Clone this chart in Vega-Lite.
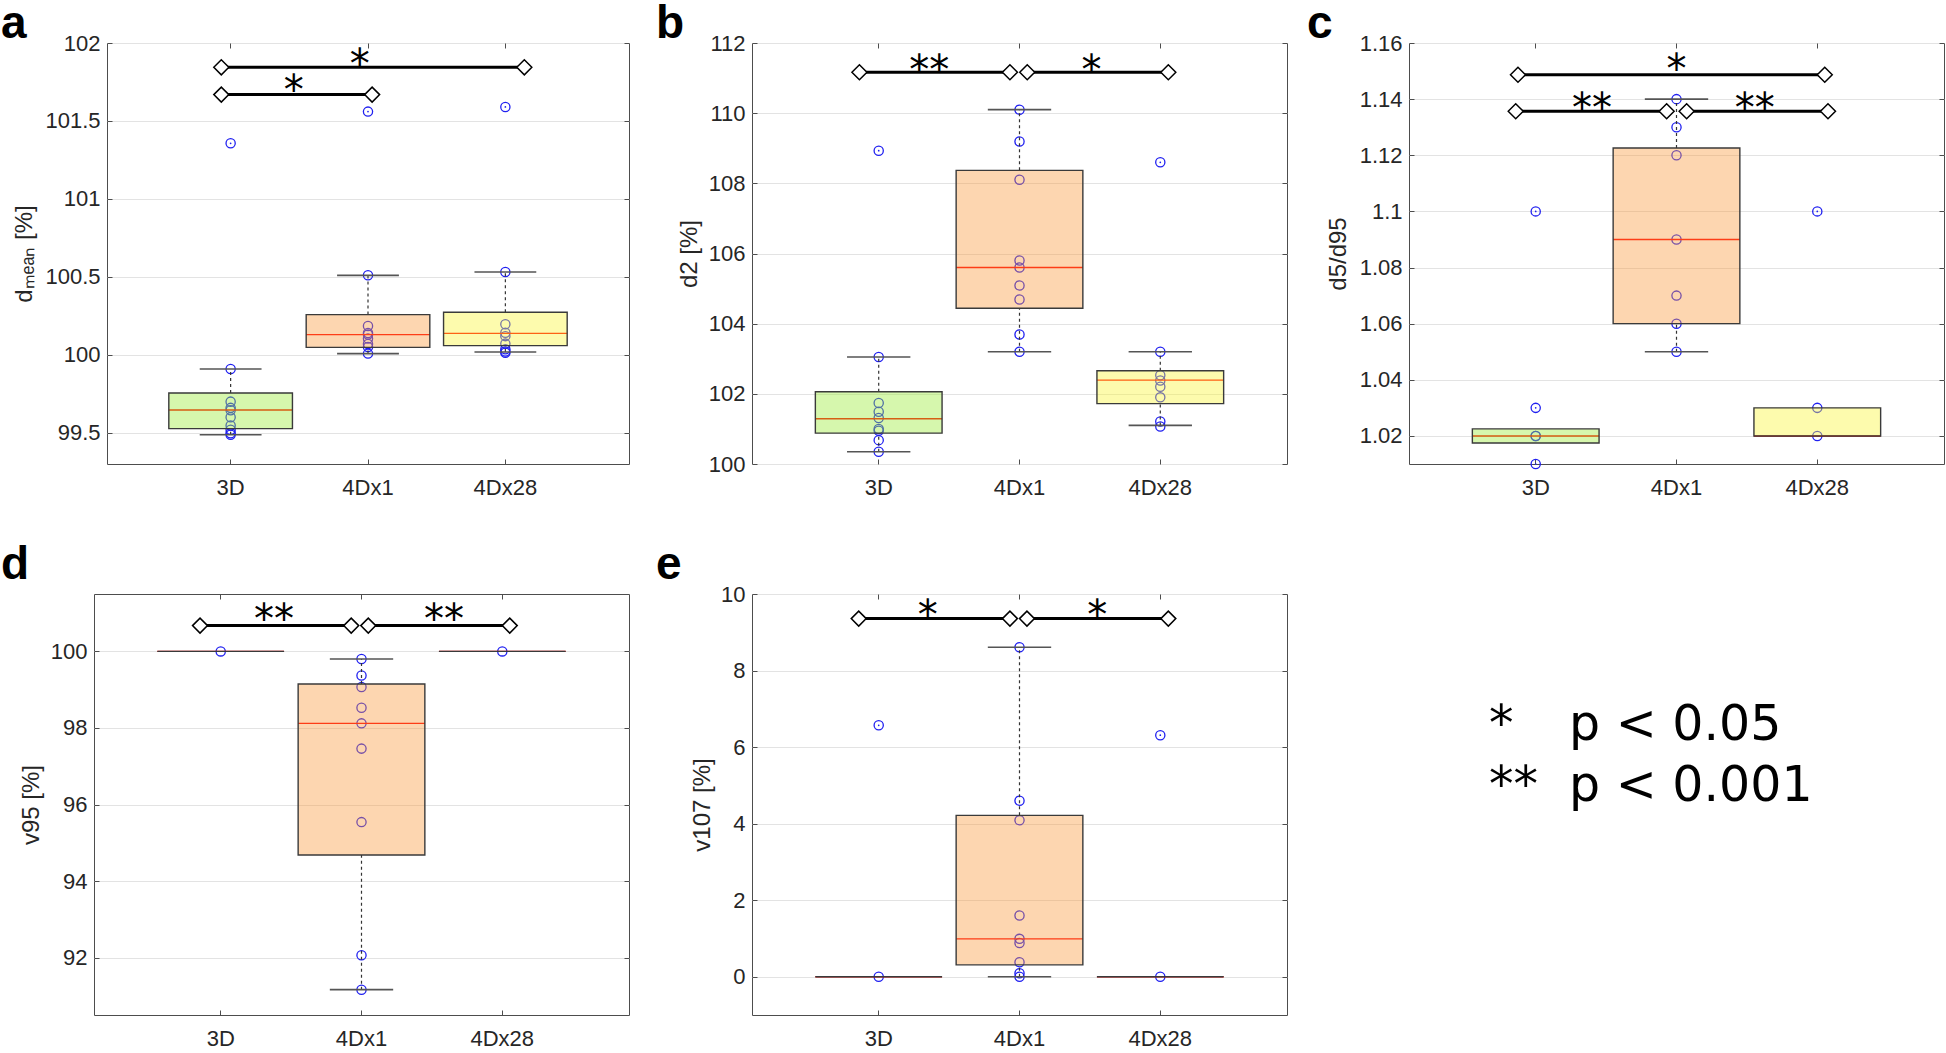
{
  "$schema": "https://vega.github.io/schema/vega-lite/v6.json",
  "padding": {"left": 0, "top": 0, "right": 0, "bottom": 0},
  "background": "white",
  "bounds": "full",
  "spacing": 42,
  "datasets": {
    "pts": [
      {"p":"a","g":"3D","v":101.357},{"p":"a","g":"3D","v":99.909},{"p":"a","g":"3D","v":99.70},{"p":"a","g":"3D","v":99.66},{"p":"a","g":"3D","v":99.645},{"p":"a","g":"3D","v":99.60},{"p":"a","g":"3D","v":99.547},{"p":"a","g":"3D","v":99.52},{"p":"a","g":"3D","v":99.497},{"p":"a","g":"3D","v":99.488},
      {"p":"a","g":"4Dx1","v":101.56},{"p":"a","g":"4Dx1","v":100.51},{"p":"a","g":"4Dx1","v":100.185},{"p":"a","g":"4Dx1","v":100.14},{"p":"a","g":"4Dx1","v":100.13},{"p":"a","g":"4Dx1","v":100.105},{"p":"a","g":"4Dx1","v":100.07},{"p":"a","g":"4Dx1","v":100.05},{"p":"a","g":"4Dx1","v":100.008},
      {"p":"a","g":"4Dx28","v":101.59},{"p":"a","g":"4Dx28","v":100.531},{"p":"a","g":"4Dx28","v":100.196},{"p":"a","g":"4Dx28","v":100.142},{"p":"a","g":"4Dx28","v":100.12},{"p":"a","g":"4Dx28","v":100.072},{"p":"a","g":"4Dx28","v":100.036},{"p":"a","g":"4Dx28","v":100.021},{"p":"a","g":"4Dx28","v":100.014},
      {"p":"b","g":"3D","v":108.93},{"p":"b","g":"3D","v":103.05},{"p":"b","g":"3D","v":101.74},{"p":"b","g":"3D","v":101.49},{"p":"b","g":"3D","v":101.31},{"p":"b","g":"3D","v":101.0},{"p":"b","g":"3D","v":100.95},{"p":"b","g":"3D","v":100.68},{"p":"b","g":"3D","v":100.35},
      {"p":"b","g":"4Dx1","v":110.1},{"p":"b","g":"4Dx1","v":109.19},{"p":"b","g":"4Dx1","v":108.1},{"p":"b","g":"4Dx1","v":105.8},{"p":"b","g":"4Dx1","v":105.6},{"p":"b","g":"4Dx1","v":105.09},{"p":"b","g":"4Dx1","v":104.69},{"p":"b","g":"4Dx1","v":103.69},{"p":"b","g":"4Dx1","v":103.2},
      {"p":"b","g":"4Dx28","v":108.6},{"p":"b","g":"4Dx28","v":103.2},{"p":"b","g":"4Dx28","v":102.53},{"p":"b","g":"4Dx28","v":102.38},{"p":"b","g":"4Dx28","v":102.2},{"p":"b","g":"4Dx28","v":101.9},{"p":"b","g":"4Dx28","v":101.21},{"p":"b","g":"4Dx28","v":101.07},
      {"p":"c","g":"3D","v":1.10},{"p":"c","g":"3D","v":1.03},{"p":"c","g":"3D","v":1.02},{"p":"c","g":"3D","v":1.02},{"p":"c","g":"3D","v":1.01},
      {"p":"c","g":"4Dx1","v":1.14},{"p":"c","g":"4Dx1","v":1.13},{"p":"c","g":"4Dx1","v":1.12},{"p":"c","g":"4Dx1","v":1.09},{"p":"c","g":"4Dx1","v":1.07},{"p":"c","g":"4Dx1","v":1.06},{"p":"c","g":"4Dx1","v":1.05},
      {"p":"c","g":"4Dx28","v":1.10},{"p":"c","g":"4Dx28","v":1.03},{"p":"c","g":"4Dx28","v":1.02},
      {"p":"d","g":"3D","v":100},
      {"p":"d","g":"4Dx1","v":99.80},{"p":"d","g":"4Dx1","v":99.37},{"p":"d","g":"4Dx1","v":99.07},{"p":"d","g":"4Dx1","v":98.53},{"p":"d","g":"4Dx1","v":98.12},{"p":"d","g":"4Dx1","v":97.46},{"p":"d","g":"4Dx1","v":95.54},{"p":"d","g":"4Dx1","v":92.06},{"p":"d","g":"4Dx1","v":91.16},
      {"p":"d","g":"4Dx28","v":100},
      {"p":"e","g":"3D","v":6.57},{"p":"e","g":"3D","v":0},
      {"p":"e","g":"4Dx1","v":8.61},{"p":"e","g":"4Dx1","v":4.60},{"p":"e","g":"4Dx1","v":4.09},{"p":"e","g":"4Dx1","v":1.6},{"p":"e","g":"4Dx1","v":0.99},{"p":"e","g":"4Dx1","v":0.88},{"p":"e","g":"4Dx1","v":0.38},{"p":"e","g":"4Dx1","v":0.09},{"p":"e","g":"4Dx1","v":0.0},
      {"p":"e","g":"4Dx28","v":6.31},{"p":"e","g":"4Dx28","v":0}
    ],
    "out": [
      {"p":"a","g":"3D","v":101.357},{"p":"a","g":"4Dx1","v":101.56},{"p":"a","g":"4Dx28","v":101.59},
      {"p":"b","g":"3D","v":108.93},{"p":"b","g":"4Dx28","v":108.6},
      {"p":"c","g":"3D","v":1.10},{"p":"c","g":"3D","v":1.03},{"p":"c","g":"3D","v":1.01},{"p":"c","g":"4Dx28","v":1.10},
      {"p":"e","g":"3D","v":6.57},{"p":"e","g":"4Dx28","v":6.31}
    ],
    "box": [
      {"p":"a","g":"3D","q1":99.527,"med":99.646,"q3":99.755,"wlo":99.488,"whi":99.909},
      {"p":"a","g":"4Dx1","q1":100.048,"med":100.13,"q3":100.258,"wlo":100.008,"whi":100.51},
      {"p":"a","g":"4Dx28","q1":100.059,"med":100.138,"q3":100.273,"wlo":100.018,"whi":100.531},
      {"p":"b","g":"3D","q1":100.88,"med":101.29,"q3":102.06,"wlo":100.35,"whi":103.05},
      {"p":"b","g":"4Dx1","q1":104.44,"med":105.6,"q3":108.37,"wlo":103.2,"whi":110.1},
      {"p":"b","g":"4Dx28","q1":101.72,"med":102.39,"q3":102.66,"wlo":101.1,"whi":103.2},
      {"p":"c","g":"3D","q1":1.0175,"med":1.02,"q3":1.0225,"wlo":null,"whi":null},
      {"p":"c","g":"4Dx1","q1":1.06,"med":1.09,"q3":1.1226,"wlo":1.05,"whi":1.14},
      {"p":"c","g":"4Dx28","q1":1.02,"med":1.02,"q3":1.03,"wlo":null,"whi":null},
      {"p":"d","g":"3D","q1":100,"med":100,"q3":100,"wlo":null,"whi":null},
      {"p":"d","g":"4Dx1","q1":94.68,"med":98.12,"q3":99.148,"wlo":91.163,"whi":99.80},
      {"p":"d","g":"4Dx28","q1":100,"med":100,"q3":100,"wlo":null,"whi":null},
      {"p":"e","g":"3D","q1":0,"med":0,"q3":0,"wlo":null,"whi":null},
      {"p":"e","g":"4Dx1","q1":0.31,"med":0.99,"q3":4.217,"wlo":0,"whi":8.61},
      {"p":"e","g":"4Dx28","q1":0,"med":0,"q3":0,"wlo":null,"whi":null}
    ],
    "sig": [
      {"p":"a","x1":0.932,"x2":3.138,"y":101.844},{"p":"a","x1":0.932,"x2":2.03,"y":101.669},
      {"p":"b","x1":0.863,"x2":1.932,"y":111.165},{"p":"b","x1":2.055,"x2":3.057,"y":111.165},
      {"p":"c","x1":0.874,"x2":3.053,"y":1.1487},{"p":"c","x1":0.858,"x2":1.93,"y":1.1357},{"p":"c","x1":2.072,"x2":3.076,"y":1.1357},
      {"p":"d","x1":0.853,"x2":1.927,"y":100.674},{"p":"d","x1":2.048,"x2":3.053,"y":100.674},
      {"p":"e","x1":0.858,"x2":1.932,"y":9.357},{"p":"e","x1":2.053,"x2":3.057,"y":9.357}
    ],
    "star": [
      {"p":"a","x":1.94,"y":101.908,"s":"*"},{"p":"a","x":1.46,"y":101.743,"s":"*"},
      {"p":"b","x":1.359,"y":111.43,"s":"**"},{"p":"b","x":2.512,"y":111.43,"s":"*"},
      {"p":"c","x":2.0,"y":1.1532,"s":"*"},{"p":"c","x":1.40,"y":1.1395,"s":"**"},{"p":"c","x":2.555,"y":1.1395,"s":"**"},
      {"p":"d","x":1.379,"y":101.02,"s":"**"},{"p":"d","x":2.586,"y":101.02,"s":"**"},
      {"p":"e","x":1.348,"y":9.63,"s":"*"},{"p":"e","x":2.552,"y":9.63,"s":"*"}
    ],
    "leg": [
      {"line":1,"sym":"*","cond":"p < 0.05"},
      {"line":2,"sym":"**","cond":"p < 0.001"}
    ]
  },
  "vconcat": [
    {
      "hconcat": [
        {"width": 8, "height": 421, "data": {"values": []}, "mark": "point", "view": {"stroke": null}},
        {
          "width": 522, "height": 421,
          "view": {"stroke": "#4d4d4d", "strokeWidth": 1},
          "resolve": {"scale": {"x": "independent"}},
          "layer": [
            {
              "resolve": {"axis": {"x": "independent", "y": "independent"}},
              "layer": [
                {"data": {"name": "pts"}, "transform": [{"filter": "datum.p == 'a'"}],
                 "mark": {"type": "point", "shape": "circle", "filled": false, "size": 85, "color": "#2020f0", "strokeWidth": 1.3, "opacity": 1},
                 "encoding": {
                   "x": {"field": "g", "type": "nominal", "scale": {"type": "band", "domain": ["3D","4Dx1","4Dx28"], "paddingInner": 0, "paddingOuter": 0.4}, "axis": {"orient": "bottom", "title": null, "labelAngle": 0, "labelPadding": 18}},
                   "y": {"field": "v", "type": "quantitative", "scale": {"domain": [99.3, 102], "nice": false, "zero": false}, "axis": {"orient": "left", "values": [99.5,100,100.5,101,101.5,102], "format": ".6~g", "title": "dₘₑₐₙ [%]", "grid": true, "labelPadding": 12, "titlePadding": 71, "minExtent": 0, "maxExtent": 0}}
                 }},
                {"data": {"name": "out"}, "transform": [{"filter": "datum.p == 'a'"}],
                 "mark": {"type": "point", "shape": "circle", "filled": true, "size": 3, "color": "#2020f0", "opacity": 1},
                 "encoding": {
                   "x": {"field": "g", "type": "nominal", "scale": {"type": "band", "domain": ["3D","4Dx1","4Dx28"], "paddingInner": 0, "paddingOuter": 0.4}, "axis": {"orient": "top", "title": null, "labels": false}},
                   "y": {"field": "v", "type": "quantitative", "scale": {"domain": [99.3, 102], "nice": false, "zero": false}, "axis": {"orient": "right", "values": [99.5,100,100.5,101,101.5,102], "labels": false, "title": null, "minExtent": 0, "maxExtent": 0}}
                 }},
                {"data": {"name": "box"}, "transform": [{"filter": "datum.p == 'a' && datum.whi != null"}],
                 "layer": [
                   {"mark": {"type": "rule", "stroke": "#333333", "strokeWidth": 1.2, "strokeDash": [3, 3]},
                    "encoding": {"x": {"field": "g", "type": "nominal", "axis": null}, "y": {"field": "q3", "type": "quantitative", "axis": null}, "y2": {"field": "whi"}}},
                   {"mark": {"type": "rule", "stroke": "#333333", "strokeWidth": 1.2, "strokeDash": [3, 3]},
                    "encoding": {"x": {"field": "g", "type": "nominal", "axis": null}, "y": {"field": "wlo", "type": "quantitative", "axis": null}, "y2": {"field": "q1"}}},
                   {"mark": {"type": "bar", "width": {"band": 0.45}, "fill": "transparent", "stroke": "#555555", "strokeWidth": 1.6},
                    "encoding": {"x": {"field": "g", "type": "nominal", "axis": null}, "y": {"field": "whi", "type": "quantitative", "axis": null}, "y2": {"field": "whi"}}},
                   {"mark": {"type": "bar", "width": {"band": 0.45}, "fill": "transparent", "stroke": "#555555", "strokeWidth": 1.6},
                    "encoding": {"x": {"field": "g", "type": "nominal", "axis": null}, "y": {"field": "wlo", "type": "quantitative", "axis": null}, "y2": {"field": "wlo"}}}
                 ]},
                {"data": {"name": "box"}, "transform": [{"filter": "datum.p == 'a'"}],
                 "layer": [
                   {"mark": {"type": "bar", "width": {"band": 0.9}, "fill": "transparent", "stroke": "#ff0000", "strokeWidth": 1.4},
                    "encoding": {"x": {"field": "g", "type": "nominal", "axis": null}, "y": {"field": "med", "type": "quantitative", "axis": null}, "y2": {"field": "med"}}},
                   {"mark": {"type": "bar", "width": {"band": 0.9}, "fillOpacity": 0.4, "stroke": "#3a3a3a", "strokeWidth": 1.4},
                    "encoding": {"x": {"field": "g", "type": "nominal", "axis": null}, "y": {"field": "q1", "type": "quantitative", "axis": null}, "y2": {"field": "q3"},
                      "fill": {"field": "g", "type": "nominal", "scale": {"domain": ["3D","4Dx1","4Dx28"], "range": ["#98eb32","#fa9839","#faf532"]}, "legend": null}}}
                 ]}
              ]
            },
            {
              "data": {"name": "sig"}, "transform": [{"filter": "datum.p == 'a'"}],
              "encoding": {"y": {"field": "y", "type": "quantitative", "scale": {"domain": [99.3, 102], "nice": false, "zero": false}, "axis": null}},
              "layer": [
                {"mark": {"type": "rule", "stroke": "black", "strokeWidth": 3}, "encoding": {"x": {"field": "x1", "type": "quantitative", "scale": {"domain": [0.1, 3.9], "nice": false, "zero": false}, "axis": null}, "x2": {"field": "x2"}}},
                {"mark": {"type": "point", "shape": "diamond", "filled": true, "fill": "white", "stroke": "black", "strokeWidth": 1.5, "size": 225, "opacity": 1}, "encoding": {"x": {"field": "x1", "type": "quantitative", "axis": null}}},
                {"mark": {"type": "point", "shape": "diamond", "filled": true, "fill": "white", "stroke": "black", "strokeWidth": 1.5, "size": 225, "opacity": 1}, "encoding": {"x": {"field": "x2", "type": "quantitative", "axis": null}}}
              ]
            },
            {
              "data": {"name": "star"}, "transform": [{"filter": "datum.p == 'a'"}],
              "mark": {"type": "text", "font": "DejaVu Sans", "fontSize": 40, "baseline": "alphabetic", "dy": 21, "align": "center", "color": "black"},
              "encoding": {"x": {"field": "x", "type": "quantitative", "scale": {"domain": [0.1, 3.9], "nice": false, "zero": false}, "axis": null}, "y": {"field": "y", "type": "quantitative", "axis": null}, "text": {"field": "s"}}
            },
            {
              "data": {"values": [{"label": "a"}]},
              "mark": {"type": "text", "font": "Liberation Sans", "fontSize": 46, "fontWeight": "bold", "baseline": "alphabetic", "align": "left", "color": "black"},
              "encoding": {"x": {"datum": -0.6716, "type": "quantitative", "scale": {"domain": [0.1, 3.9], "nice": false, "zero": false}, "axis": null}, "y": {"datum": 102.032, "type": "quantitative", "axis": null}, "text": {"field": "label"}}
            }
          ]
        },
        {"width": 113, "height": 421, "data": {"values": []}, "mark": "point", "view": {"stroke": null}},
        {
          "width": 535, "height": 421,
          "view": {"stroke": "#4d4d4d", "strokeWidth": 1},
          "resolve": {"scale": {"x": "independent"}},
          "layer": [
            {
              "resolve": {"axis": {"x": "independent", "y": "independent"}},
              "layer": [
                {"data": {"name": "pts"}, "transform": [{"filter": "datum.p == 'b'"}],
                 "mark": {"type": "point", "shape": "circle", "filled": false, "size": 85, "color": "#2020f0", "strokeWidth": 1.3, "opacity": 1},
                 "encoding": {
                   "x": {"field": "g", "type": "nominal", "scale": {"type": "band", "domain": ["3D","4Dx1","4Dx28"], "paddingInner": 0, "paddingOuter": 0.4}, "axis": {"orient": "bottom", "title": null, "labelAngle": 0, "labelPadding": 18}},
                   "y": {"field": "v", "type": "quantitative", "scale": {"domain": [100, 112], "nice": false, "zero": false}, "axis": {"orient": "left", "values": [100,102,104,106,108,110,112], "format": ".6~g", "title": "d2 [%]", "grid": true, "labelPadding": 12, "titlePadding": 51, "minExtent": 0, "maxExtent": 0}}
                 }},
                {"data": {"name": "out"}, "transform": [{"filter": "datum.p == 'b'"}],
                 "mark": {"type": "point", "shape": "circle", "filled": true, "size": 3, "color": "#2020f0", "opacity": 1},
                 "encoding": {
                   "x": {"field": "g", "type": "nominal", "scale": {"type": "band", "domain": ["3D","4Dx1","4Dx28"], "paddingInner": 0, "paddingOuter": 0.4}, "axis": {"orient": "top", "title": null, "labels": false}},
                   "y": {"field": "v", "type": "quantitative", "scale": {"domain": [100, 112], "nice": false, "zero": false}, "axis": {"orient": "right", "values": [100,102,104,106,108,110,112], "labels": false, "title": null, "minExtent": 0, "maxExtent": 0}}
                 }},
                {"data": {"name": "box"}, "transform": [{"filter": "datum.p == 'b' && datum.whi != null"}],
                 "layer": [
                   {"mark": {"type": "rule", "stroke": "#333333", "strokeWidth": 1.2, "strokeDash": [3, 3]},
                    "encoding": {"x": {"field": "g", "type": "nominal", "axis": null}, "y": {"field": "q3", "type": "quantitative", "axis": null}, "y2": {"field": "whi"}}},
                   {"mark": {"type": "rule", "stroke": "#333333", "strokeWidth": 1.2, "strokeDash": [3, 3]},
                    "encoding": {"x": {"field": "g", "type": "nominal", "axis": null}, "y": {"field": "wlo", "type": "quantitative", "axis": null}, "y2": {"field": "q1"}}},
                   {"mark": {"type": "bar", "width": {"band": 0.45}, "fill": "transparent", "stroke": "#555555", "strokeWidth": 1.6},
                    "encoding": {"x": {"field": "g", "type": "nominal", "axis": null}, "y": {"field": "whi", "type": "quantitative", "axis": null}, "y2": {"field": "whi"}}},
                   {"mark": {"type": "bar", "width": {"band": 0.45}, "fill": "transparent", "stroke": "#555555", "strokeWidth": 1.6},
                    "encoding": {"x": {"field": "g", "type": "nominal", "axis": null}, "y": {"field": "wlo", "type": "quantitative", "axis": null}, "y2": {"field": "wlo"}}}
                 ]},
                {"data": {"name": "box"}, "transform": [{"filter": "datum.p == 'b'"}],
                 "layer": [
                   {"mark": {"type": "bar", "width": {"band": 0.9}, "fill": "transparent", "stroke": "#ff0000", "strokeWidth": 1.4},
                    "encoding": {"x": {"field": "g", "type": "nominal", "axis": null}, "y": {"field": "med", "type": "quantitative", "axis": null}, "y2": {"field": "med"}}},
                   {"mark": {"type": "bar", "width": {"band": 0.9}, "fillOpacity": 0.4, "stroke": "#3a3a3a", "strokeWidth": 1.4},
                    "encoding": {"x": {"field": "g", "type": "nominal", "axis": null}, "y": {"field": "q1", "type": "quantitative", "axis": null}, "y2": {"field": "q3"},
                      "fill": {"field": "g", "type": "nominal", "scale": {"domain": ["3D","4Dx1","4Dx28"], "range": ["#98eb32","#fa9839","#faf532"]}, "legend": null}}}
                 ]}
              ]
            },
            {
              "data": {"name": "sig"}, "transform": [{"filter": "datum.p == 'b'"}],
              "encoding": {"y": {"field": "y", "type": "quantitative", "scale": {"domain": [100, 112], "nice": false, "zero": false}, "axis": null}},
              "layer": [
                {"mark": {"type": "rule", "stroke": "black", "strokeWidth": 3}, "encoding": {"x": {"field": "x1", "type": "quantitative", "scale": {"domain": [0.1, 3.9], "nice": false, "zero": false}, "axis": null}, "x2": {"field": "x2"}}},
                {"mark": {"type": "point", "shape": "diamond", "filled": true, "fill": "white", "stroke": "black", "strokeWidth": 1.5, "size": 225, "opacity": 1}, "encoding": {"x": {"field": "x1", "type": "quantitative", "axis": null}}},
                {"mark": {"type": "point", "shape": "diamond", "filled": true, "fill": "white", "stroke": "black", "strokeWidth": 1.5, "size": 225, "opacity": 1}, "encoding": {"x": {"field": "x2", "type": "quantitative", "axis": null}}}
              ]
            },
            {
              "data": {"name": "star"}, "transform": [{"filter": "datum.p == 'b'"}],
              "mark": {"type": "text", "font": "DejaVu Sans", "fontSize": 40, "baseline": "alphabetic", "dy": 21, "align": "center", "color": "black"},
              "encoding": {"x": {"field": "x", "type": "quantitative", "scale": {"domain": [0.1, 3.9], "nice": false, "zero": false}, "axis": null}, "y": {"field": "y", "type": "quantitative", "axis": null}, "text": {"field": "s"}}
            },
            {
              "data": {"values": [{"label": "b"}]},
              "mark": {"type": "text", "font": "Liberation Sans", "fontSize": 46, "fontWeight": "bold", "baseline": "alphabetic", "align": "left", "color": "black"},
              "encoding": {"x": {"datum": -0.5819, "type": "quantitative", "scale": {"domain": [0.1, 3.9], "nice": false, "zero": false}, "axis": null}, "y": {"datum": 112.1425, "type": "quantitative", "axis": null}, "text": {"field": "label"}}
            }
          ]
        },
        {"width": 112, "height": 421, "data": {"values": []}, "mark": "point", "view": {"stroke": null}},
        {
          "width": 535, "height": 421,
          "view": {"stroke": "#4d4d4d", "strokeWidth": 1},
          "resolve": {"scale": {"x": "independent"}},
          "layer": [
            {
              "resolve": {"axis": {"x": "independent", "y": "independent"}},
              "layer": [
                {"data": {"name": "pts"}, "transform": [{"filter": "datum.p == 'c'"}],
                 "mark": {"type": "point", "shape": "circle", "filled": false, "size": 85, "color": "#2020f0", "strokeWidth": 1.3, "opacity": 1},
                 "encoding": {
                   "x": {"field": "g", "type": "nominal", "scale": {"type": "band", "domain": ["3D","4Dx1","4Dx28"], "paddingInner": 0, "paddingOuter": 0.4}, "axis": {"orient": "bottom", "title": null, "labelAngle": 0, "labelPadding": 18}},
                   "y": {"field": "v", "type": "quantitative", "scale": {"domain": [1.01, 1.16], "nice": false, "zero": false}, "axis": {"orient": "left", "values": [1.02,1.04,1.06,1.08,1.1,1.12,1.14,1.16], "format": ".6~g", "title": "d5/d95", "grid": true, "labelPadding": 12, "titlePadding": 59, "minExtent": 0, "maxExtent": 0}}
                 }},
                {"data": {"name": "out"}, "transform": [{"filter": "datum.p == 'c'"}],
                 "mark": {"type": "point", "shape": "circle", "filled": true, "size": 3, "color": "#2020f0", "opacity": 1},
                 "encoding": {
                   "x": {"field": "g", "type": "nominal", "scale": {"type": "band", "domain": ["3D","4Dx1","4Dx28"], "paddingInner": 0, "paddingOuter": 0.4}, "axis": {"orient": "top", "title": null, "labels": false}},
                   "y": {"field": "v", "type": "quantitative", "scale": {"domain": [1.01, 1.16], "nice": false, "zero": false}, "axis": {"orient": "right", "values": [1.02,1.04,1.06,1.08,1.1,1.12,1.14,1.16], "labels": false, "title": null, "minExtent": 0, "maxExtent": 0}}
                 }},
                {"data": {"name": "box"}, "transform": [{"filter": "datum.p == 'c' && datum.whi != null"}],
                 "layer": [
                   {"mark": {"type": "rule", "stroke": "#333333", "strokeWidth": 1.2, "strokeDash": [3, 3]},
                    "encoding": {"x": {"field": "g", "type": "nominal", "axis": null}, "y": {"field": "q3", "type": "quantitative", "axis": null}, "y2": {"field": "whi"}}},
                   {"mark": {"type": "rule", "stroke": "#333333", "strokeWidth": 1.2, "strokeDash": [3, 3]},
                    "encoding": {"x": {"field": "g", "type": "nominal", "axis": null}, "y": {"field": "wlo", "type": "quantitative", "axis": null}, "y2": {"field": "q1"}}},
                   {"mark": {"type": "bar", "width": {"band": 0.45}, "fill": "transparent", "stroke": "#555555", "strokeWidth": 1.6},
                    "encoding": {"x": {"field": "g", "type": "nominal", "axis": null}, "y": {"field": "whi", "type": "quantitative", "axis": null}, "y2": {"field": "whi"}}},
                   {"mark": {"type": "bar", "width": {"band": 0.45}, "fill": "transparent", "stroke": "#555555", "strokeWidth": 1.6},
                    "encoding": {"x": {"field": "g", "type": "nominal", "axis": null}, "y": {"field": "wlo", "type": "quantitative", "axis": null}, "y2": {"field": "wlo"}}}
                 ]},
                {"data": {"name": "box"}, "transform": [{"filter": "datum.p == 'c'"}],
                 "layer": [
                   {"mark": {"type": "bar", "width": {"band": 0.9}, "fill": "transparent", "stroke": "#ff0000", "strokeWidth": 1.4},
                    "encoding": {"x": {"field": "g", "type": "nominal", "axis": null}, "y": {"field": "med", "type": "quantitative", "axis": null}, "y2": {"field": "med"}}},
                   {"mark": {"type": "bar", "width": {"band": 0.9}, "fillOpacity": 0.4, "stroke": "#3a3a3a", "strokeWidth": 1.4},
                    "encoding": {"x": {"field": "g", "type": "nominal", "axis": null}, "y": {"field": "q1", "type": "quantitative", "axis": null}, "y2": {"field": "q3"},
                      "fill": {"field": "g", "type": "nominal", "scale": {"domain": ["3D","4Dx1","4Dx28"], "range": ["#98eb32","#fa9839","#faf532"]}, "legend": null}}}
                 ]}
              ]
            },
            {
              "data": {"name": "sig"}, "transform": [{"filter": "datum.p == 'c'"}],
              "encoding": {"y": {"field": "y", "type": "quantitative", "scale": {"domain": [1.01, 1.16], "nice": false, "zero": false}, "axis": null}},
              "layer": [
                {"mark": {"type": "rule", "stroke": "black", "strokeWidth": 3}, "encoding": {"x": {"field": "x1", "type": "quantitative", "scale": {"domain": [0.1, 3.9], "nice": false, "zero": false}, "axis": null}, "x2": {"field": "x2"}}},
                {"mark": {"type": "point", "shape": "diamond", "filled": true, "fill": "white", "stroke": "black", "strokeWidth": 1.5, "size": 225, "opacity": 1}, "encoding": {"x": {"field": "x1", "type": "quantitative", "axis": null}}},
                {"mark": {"type": "point", "shape": "diamond", "filled": true, "fill": "white", "stroke": "black", "strokeWidth": 1.5, "size": 225, "opacity": 1}, "encoding": {"x": {"field": "x2", "type": "quantitative", "axis": null}}}
              ]
            },
            {
              "data": {"name": "star"}, "transform": [{"filter": "datum.p == 'c'"}],
              "mark": {"type": "text", "font": "DejaVu Sans", "fontSize": 40, "baseline": "alphabetic", "dy": 21, "align": "center", "color": "black"},
              "encoding": {"x": {"field": "x", "type": "quantitative", "scale": {"domain": [0.1, 3.9], "nice": false, "zero": false}, "axis": null}, "y": {"field": "y", "type": "quantitative", "axis": null}, "text": {"field": "s"}}
            },
            {
              "data": {"values": [{"label": "c"}]},
              "mark": {"type": "text", "font": "Liberation Sans", "fontSize": 46, "fontWeight": "bold", "baseline": "alphabetic", "align": "left", "color": "black"},
              "encoding": {"x": {"datum": -0.6245, "type": "quantitative", "scale": {"domain": [0.1, 3.9], "nice": false, "zero": false}, "axis": null}, "y": {"datum": 1.16178, "type": "quantitative", "axis": null}, "text": {"field": "label"}}
            }
          ]
        }
      ],
      "spacing": 5,
      "bounds": "flush"
    },
    {
      "hconcat": [
        {
          "width": 535, "height": 421,
          "view": {"stroke": "#4d4d4d", "strokeWidth": 1},
          "resolve": {"scale": {"x": "independent"}},
          "layer": [
            {
              "resolve": {"axis": {"x": "independent", "y": "independent"}},
              "layer": [
                {"data": {"name": "pts"}, "transform": [{"filter": "datum.p == 'd'"}],
                 "mark": {"type": "point", "shape": "circle", "filled": false, "size": 85, "color": "#2020f0", "strokeWidth": 1.3, "opacity": 1},
                 "encoding": {
                   "x": {"field": "g", "type": "nominal", "scale": {"type": "band", "domain": ["3D","4Dx1","4Dx28"], "paddingInner": 0, "paddingOuter": 0.4}, "axis": {"orient": "bottom", "title": null, "labelAngle": 0, "labelPadding": 18}},
                   "y": {"field": "v", "type": "quantitative", "scale": {"domain": [90.5, 101.5], "nice": false, "zero": false}, "axis": {"orient": "left", "values": [92,94,96,98,100], "format": ".6~g", "title": "v95 [%]", "grid": true, "labelPadding": 12, "titlePadding": 51, "minExtent": 0, "maxExtent": 0}}
                 }},
                {"data": {"name": "out"}, "transform": [{"filter": "datum.p == 'd'"}],
                 "mark": {"type": "point", "shape": "circle", "filled": true, "size": 3, "color": "#2020f0", "opacity": 1},
                 "encoding": {
                   "x": {"field": "g", "type": "nominal", "scale": {"type": "band", "domain": ["3D","4Dx1","4Dx28"], "paddingInner": 0, "paddingOuter": 0.4}, "axis": {"orient": "top", "title": null, "labels": false}},
                   "y": {"field": "v", "type": "quantitative", "scale": {"domain": [90.5, 101.5], "nice": false, "zero": false}, "axis": {"orient": "right", "values": [92,94,96,98,100], "labels": false, "title": null, "minExtent": 0, "maxExtent": 0}}
                 }},
                {"data": {"name": "box"}, "transform": [{"filter": "datum.p == 'd' && datum.whi != null"}],
                 "layer": [
                   {"mark": {"type": "rule", "stroke": "#333333", "strokeWidth": 1.2, "strokeDash": [3, 3]},
                    "encoding": {"x": {"field": "g", "type": "nominal", "axis": null}, "y": {"field": "q3", "type": "quantitative", "axis": null}, "y2": {"field": "whi"}}},
                   {"mark": {"type": "rule", "stroke": "#333333", "strokeWidth": 1.2, "strokeDash": [3, 3]},
                    "encoding": {"x": {"field": "g", "type": "nominal", "axis": null}, "y": {"field": "wlo", "type": "quantitative", "axis": null}, "y2": {"field": "q1"}}},
                   {"mark": {"type": "bar", "width": {"band": 0.45}, "fill": "transparent", "stroke": "#555555", "strokeWidth": 1.6},
                    "encoding": {"x": {"field": "g", "type": "nominal", "axis": null}, "y": {"field": "whi", "type": "quantitative", "axis": null}, "y2": {"field": "whi"}}},
                   {"mark": {"type": "bar", "width": {"band": 0.45}, "fill": "transparent", "stroke": "#555555", "strokeWidth": 1.6},
                    "encoding": {"x": {"field": "g", "type": "nominal", "axis": null}, "y": {"field": "wlo", "type": "quantitative", "axis": null}, "y2": {"field": "wlo"}}}
                 ]},
                {"data": {"name": "box"}, "transform": [{"filter": "datum.p == 'd'"}],
                 "layer": [
                   {"mark": {"type": "bar", "width": {"band": 0.9}, "fill": "transparent", "stroke": "#ff0000", "strokeWidth": 1.4},
                    "encoding": {"x": {"field": "g", "type": "nominal", "axis": null}, "y": {"field": "med", "type": "quantitative", "axis": null}, "y2": {"field": "med"}}},
                   {"mark": {"type": "bar", "width": {"band": 0.9}, "fillOpacity": 0.4, "stroke": "#3a3a3a", "strokeWidth": 1.4},
                    "encoding": {"x": {"field": "g", "type": "nominal", "axis": null}, "y": {"field": "q1", "type": "quantitative", "axis": null}, "y2": {"field": "q3"},
                      "fill": {"field": "g", "type": "nominal", "scale": {"domain": ["3D","4Dx1","4Dx28"], "range": ["#98eb32","#fa9839","#faf532"]}, "legend": null}}}
                 ]}
              ]
            },
            {
              "data": {"name": "sig"}, "transform": [{"filter": "datum.p == 'd'"}],
              "encoding": {"y": {"field": "y", "type": "quantitative", "scale": {"domain": [90.5, 101.5], "nice": false, "zero": false}, "axis": null}},
              "layer": [
                {"mark": {"type": "rule", "stroke": "black", "strokeWidth": 3}, "encoding": {"x": {"field": "x1", "type": "quantitative", "scale": {"domain": [0.1, 3.9], "nice": false, "zero": false}, "axis": null}, "x2": {"field": "x2"}}},
                {"mark": {"type": "point", "shape": "diamond", "filled": true, "fill": "white", "stroke": "black", "strokeWidth": 1.5, "size": 225, "opacity": 1}, "encoding": {"x": {"field": "x1", "type": "quantitative", "axis": null}}},
                {"mark": {"type": "point", "shape": "diamond", "filled": true, "fill": "white", "stroke": "black", "strokeWidth": 1.5, "size": 225, "opacity": 1}, "encoding": {"x": {"field": "x2", "type": "quantitative", "axis": null}}}
              ]
            },
            {
              "data": {"name": "star"}, "transform": [{"filter": "datum.p == 'd'"}],
              "mark": {"type": "text", "font": "DejaVu Sans", "fontSize": 40, "baseline": "alphabetic", "dy": 21, "align": "center", "color": "black"},
              "encoding": {"x": {"field": "x", "type": "quantitative", "scale": {"domain": [0.1, 3.9], "nice": false, "zero": false}, "axis": null}, "y": {"field": "y", "type": "quantitative", "axis": null}, "text": {"field": "s"}}
            },
            {
              "data": {"values": [{"label": "d"}]},
              "mark": {"type": "text", "font": "Liberation Sans", "fontSize": 46, "fontWeight": "bold", "baseline": "alphabetic", "align": "left", "color": "black"},
              "encoding": {"x": {"datum": -0.5606, "type": "quantitative", "scale": {"domain": [0.1, 3.9], "nice": false, "zero": false}, "axis": null}, "y": {"datum": 101.879, "type": "quantitative", "axis": null}, "text": {"field": "label"}}
            }
          ]
        },
        {"width": 113, "height": 421, "data": {"values": []}, "mark": "point", "view": {"stroke": null}},
        {
          "width": 535, "height": 421,
          "view": {"stroke": "#4d4d4d", "strokeWidth": 1},
          "resolve": {"scale": {"x": "independent"}},
          "layer": [
            {
              "resolve": {"axis": {"x": "independent", "y": "independent"}},
              "layer": [
                {"data": {"name": "pts"}, "transform": [{"filter": "datum.p == 'e'"}],
                 "mark": {"type": "point", "shape": "circle", "filled": false, "size": 85, "color": "#2020f0", "strokeWidth": 1.3, "opacity": 1},
                 "encoding": {
                   "x": {"field": "g", "type": "nominal", "scale": {"type": "band", "domain": ["3D","4Dx1","4Dx28"], "paddingInner": 0, "paddingOuter": 0.4}, "axis": {"orient": "bottom", "title": null, "labelAngle": 0, "labelPadding": 18}},
                   "y": {"field": "v", "type": "quantitative", "scale": {"domain": [-1, 10], "nice": false, "zero": false}, "axis": {"orient": "left", "values": [0,2,4,6,8,10], "format": ".6~g", "title": "v107 [%]", "grid": true, "labelPadding": 12, "titlePadding": 38, "minExtent": 0, "maxExtent": 0}}
                 }},
                {"data": {"name": "out"}, "transform": [{"filter": "datum.p == 'e'"}],
                 "mark": {"type": "point", "shape": "circle", "filled": true, "size": 3, "color": "#2020f0", "opacity": 1},
                 "encoding": {
                   "x": {"field": "g", "type": "nominal", "scale": {"type": "band", "domain": ["3D","4Dx1","4Dx28"], "paddingInner": 0, "paddingOuter": 0.4}, "axis": {"orient": "top", "title": null, "labels": false}},
                   "y": {"field": "v", "type": "quantitative", "scale": {"domain": [-1, 10], "nice": false, "zero": false}, "axis": {"orient": "right", "values": [0,2,4,6,8,10], "labels": false, "title": null, "minExtent": 0, "maxExtent": 0}}
                 }},
                {"data": {"name": "box"}, "transform": [{"filter": "datum.p == 'e' && datum.whi != null"}],
                 "layer": [
                   {"mark": {"type": "rule", "stroke": "#333333", "strokeWidth": 1.2, "strokeDash": [3, 3]},
                    "encoding": {"x": {"field": "g", "type": "nominal", "axis": null}, "y": {"field": "q3", "type": "quantitative", "axis": null}, "y2": {"field": "whi"}}},
                   {"mark": {"type": "rule", "stroke": "#333333", "strokeWidth": 1.2, "strokeDash": [3, 3]},
                    "encoding": {"x": {"field": "g", "type": "nominal", "axis": null}, "y": {"field": "wlo", "type": "quantitative", "axis": null}, "y2": {"field": "q1"}}},
                   {"mark": {"type": "bar", "width": {"band": 0.45}, "fill": "transparent", "stroke": "#555555", "strokeWidth": 1.6},
                    "encoding": {"x": {"field": "g", "type": "nominal", "axis": null}, "y": {"field": "whi", "type": "quantitative", "axis": null}, "y2": {"field": "whi"}}},
                   {"mark": {"type": "bar", "width": {"band": 0.45}, "fill": "transparent", "stroke": "#555555", "strokeWidth": 1.6},
                    "encoding": {"x": {"field": "g", "type": "nominal", "axis": null}, "y": {"field": "wlo", "type": "quantitative", "axis": null}, "y2": {"field": "wlo"}}}
                 ]},
                {"data": {"name": "box"}, "transform": [{"filter": "datum.p == 'e'"}],
                 "layer": [
                   {"mark": {"type": "bar", "width": {"band": 0.9}, "fill": "transparent", "stroke": "#ff0000", "strokeWidth": 1.4},
                    "encoding": {"x": {"field": "g", "type": "nominal", "axis": null}, "y": {"field": "med", "type": "quantitative", "axis": null}, "y2": {"field": "med"}}},
                   {"mark": {"type": "bar", "width": {"band": 0.9}, "fillOpacity": 0.4, "stroke": "#3a3a3a", "strokeWidth": 1.4},
                    "encoding": {"x": {"field": "g", "type": "nominal", "axis": null}, "y": {"field": "q1", "type": "quantitative", "axis": null}, "y2": {"field": "q3"},
                      "fill": {"field": "g", "type": "nominal", "scale": {"domain": ["3D","4Dx1","4Dx28"], "range": ["#98eb32","#fa9839","#faf532"]}, "legend": null}}}
                 ]}
              ]
            },
            {
              "data": {"name": "sig"}, "transform": [{"filter": "datum.p == 'e'"}],
              "encoding": {"y": {"field": "y", "type": "quantitative", "scale": {"domain": [-1, 10], "nice": false, "zero": false}, "axis": null}},
              "layer": [
                {"mark": {"type": "rule", "stroke": "black", "strokeWidth": 3}, "encoding": {"x": {"field": "x1", "type": "quantitative", "scale": {"domain": [0.1, 3.9], "nice": false, "zero": false}, "axis": null}, "x2": {"field": "x2"}}},
                {"mark": {"type": "point", "shape": "diamond", "filled": true, "fill": "white", "stroke": "black", "strokeWidth": 1.5, "size": 225, "opacity": 1}, "encoding": {"x": {"field": "x1", "type": "quantitative", "axis": null}}},
                {"mark": {"type": "point", "shape": "diamond", "filled": true, "fill": "white", "stroke": "black", "strokeWidth": 1.5, "size": 225, "opacity": 1}, "encoding": {"x": {"field": "x2", "type": "quantitative", "axis": null}}}
              ]
            },
            {
              "data": {"name": "star"}, "transform": [{"filter": "datum.p == 'e'"}],
              "mark": {"type": "text", "font": "DejaVu Sans", "fontSize": 40, "baseline": "alphabetic", "dy": 21, "align": "center", "color": "black"},
              "encoding": {"x": {"field": "x", "type": "quantitative", "scale": {"domain": [0.1, 3.9], "nice": false, "zero": false}, "axis": null}, "y": {"field": "y", "type": "quantitative", "axis": null}, "text": {"field": "s"}}
            },
            {
              "data": {"values": [{"label": "e"}]},
              "mark": {"type": "text", "font": "Liberation Sans", "fontSize": 46, "fontWeight": "bold", "baseline": "alphabetic", "align": "left", "color": "black"},
              "encoding": {"x": {"datum": -0.5819, "type": "quantitative", "scale": {"domain": [0.1, 3.9], "nice": false, "zero": false}, "axis": null}, "y": {"datum": 10.379, "type": "quantitative", "axis": null}, "text": {"field": "label"}}
            }
          ]
        },
        {"width": 192, "height": 421, "data": {"values": []}, "mark": "point", "view": {"stroke": null}},
        {
          "width": 80, "height": 421,
          "view": {"stroke": null},
          "data": {"name": "leg"},
          "layer": [
            {"mark": {"type": "text", "font": "DejaVu Sans", "fontSize": 49, "align": "left", "baseline": "alphabetic", "color": "black"},
             "encoding": {"x": {"datum": 0, "type": "quantitative", "scale": {"domain": [0, 1], "nice": false, "zero": false}, "axis": null},
                          "y": {"field": "line", "type": "quantitative", "scale": {"domain": [-1.393, 5.509], "reverse": true, "nice": false, "zero": false}, "axis": null},
                          "text": {"field": "sym"}}},
            {"mark": {"type": "text", "font": "DejaVu Sans", "fontSize": 49, "align": "left", "baseline": "alphabetic", "color": "black"},
             "encoding": {"x": {"datum": 1, "type": "quantitative", "axis": null},
                          "y": {"field": "line", "type": "quantitative", "axis": null},
                          "text": {"field": "cond"}}}
          ]
        }
      ],
      "spacing": 5,
      "bounds": "flush"
    }
  ],
  "config": {
    "view": {"stroke": null},
    "axis": {
      "domain": false,
      "grid": false,
      "gridColor": "#e3e3e3",
      "gridWidth": 1,
      "tickSize": -5,
      "tickColor": "#4d4d4d",
      "tickWidth": 1,
      "labelFont": "Liberation Sans",
      "labelFontSize": 22,
      "labelColor": "#262626",
      "titleFont": "Liberation Sans",
      "titleFontSize": 24,
      "titleFontWeight": "normal",
      "titleColor": "#262626"
    }
  }
}
